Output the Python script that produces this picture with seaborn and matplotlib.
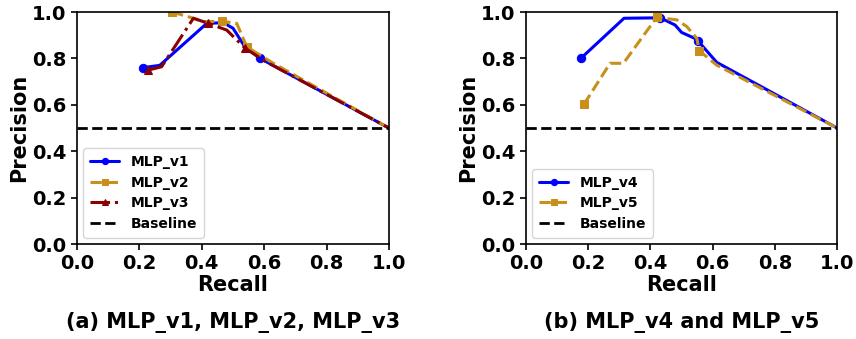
import matplotlib
matplotlib.use("Agg")
import matplotlib.pyplot as plt
import seaborn as sns
import pandas as pd

sns.set_style("ticks")
plt.rcParams['font.family'] = ['DejaVu Sans']
plt.rcParams['font.weight'] = 'bold'
plt.rcParams['axes.labelweight'] = 'bold'
plt.rcParams['text.color'] = 'black'
plt.rcParams['axes.labelcolor'] = 'black'
plt.rcParams['xtick.color'] = 'black'
plt.rcParams['ytick.color'] = 'black'

# Panel (a)
v1_recall = [0.21, 0.265, 0.416, 0.469, 0.50, 0.538, 0.587, 1.0]
v1_prec   = [0.76, 0.77, 0.951, 0.954, 0.93, 0.85, 0.80, 0.50]
v2_recall = [0.305, 0.373, 0.405, 0.465, 0.512, 0.544, 0.628, 1.0]
v2_prec   = [1.0, 0.973, 0.958, 0.96, 0.951, 0.85, 0.78, 0.50]
v3_recall = [0.229, 0.271, 0.373, 0.421, 0.48, 0.538, 0.60, 1.0]
v3_prec   = [0.75, 0.764, 0.973, 0.951, 0.922, 0.845, 0.79, 0.50]

# Panel (b)
v4_recall = [0.176, 0.315, 0.431, 0.479, 0.50, 0.543, 0.553, 0.613, 1.0]
v4_prec   = [0.80, 0.973, 0.975, 0.944, 0.912, 0.886, 0.875, 0.783, 0.50]
v5_recall = [0.186, 0.27, 0.313, 0.42, 0.485, 0.517, 0.549, 0.557, 0.613, 1.0]
v5_prec   = [0.602, 0.779, 0.779, 0.977, 0.966, 0.937, 0.886, 0.833, 0.771, 0.50]

baseline = 0.5
ticks = [0.0, 0.2, 0.4, 0.6, 0.8, 1.0]

fig = plt.figure(figsize=(8.56, 3.39), dpi=100)
ax1 = fig.add_axes([0.09, 0.280, 0.3644, 0.6846])
ax2 = fig.add_axes([0.6145, 0.280, 0.3635, 0.6846])

lw = 2.2
def draw(ax, x, y, color, ls, marker, me, label):
    sns.lineplot(x=x, y=y, ax=ax, sort=False, estimator=None, color=color,
                 linestyle=ls, marker=marker, markevery=me, markersize=6,
                 markeredgecolor=color, linewidth=lw, label=label)

draw(ax1, v1_recall, v1_prec, 'blue', '-', 'o', [0, 6], 'MLP_v1')
draw(ax1, v2_recall, v2_prec, '#c8901a', '--', 's', [0, 3, 5], 'MLP_v2')
draw(ax1, v3_recall, v3_prec, '#8b0000', '-.', '^', [0, 3, 5], 'MLP_v3')
draw(ax2, v4_recall, v4_prec, 'blue', '-', 'o', [0, 2, 6], 'MLP_v4')
draw(ax2, v5_recall, v5_prec, '#c8901a', '--', 's', [0, 3, 7], 'MLP_v5')

for ax in (ax1, ax2):
    ax.axhline(baseline, color='black', linestyle='--', linewidth=2, label='Baseline')
    ax.set_xlim(0, 1)
    ax.set_ylim(0, 1)
    ax.set_xticks(ticks)
    ax.set_yticks(ticks)
    ax.set_xticklabels([f"{t:.1f}" for t in ticks], fontsize=14, fontweight='bold')
    ax.set_yticklabels([f"{t:.1f}" for t in ticks], fontsize=14, fontweight='bold')
    ax.set_xlabel('Recall', fontsize=15, fontweight='bold', labelpad=1)
    ax.set_ylabel('Precision', fontsize=15, fontweight='bold', labelpad=2)
    for s in ax.spines.values():
        s.set_visible(True)
        s.set_color('black')
        s.set_linewidth(1.2)
    ax.tick_params(direction='out', length=4, width=1.2, colors='black')
    leg = ax.legend(loc='lower left', prop={'weight': 'bold', 'size': 10},
                    frameon=True, handlelength=2.1, labelspacing=0.47,
                    markerscale=0.75, borderaxespad=0.45, handletextpad=0.8,
                    borderpad=0.5)

fig.text(0.272, 0.05, '(a) MLP_v1, MLP_v2, MLP_v3', ha='center', va='center',
         fontsize=15, fontweight='bold')
fig.text(0.796, 0.05, '(b) MLP_v4 and MLP_v5', ha='center', va='center',
         fontsize=15, fontweight='bold')

fig.savefig('out.png', dpi=100)
